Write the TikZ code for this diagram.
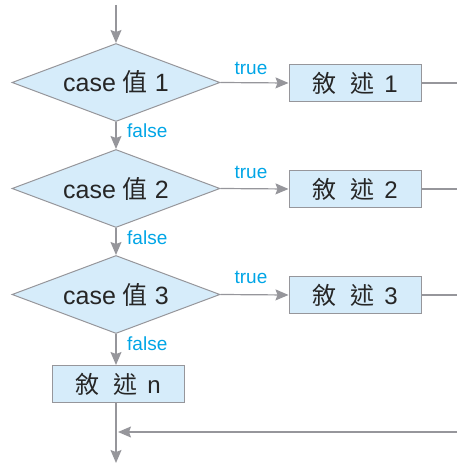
\documentclass[tikz,border=0pt]{standalone}
\usepackage{fontspec}
\setmainfont{Liberation Sans}
\newfontfamily\cjk{Noto Sans CJK TC}
\usetikzlibrary{shapes.geometric,arrows.meta}
\definecolor{flowgray}{RGB}{150,150,155}
\definecolor{boxfill}{RGB}{214,236,250}
\definecolor{labelblue}{RGB}{0,165,230}

\begin{document}
\begin{tikzpicture}[x=1pt,y=1pt,
  decision/.style={diamond,draw=flowgray,fill=boxfill,line width=1pt,aspect=2.66,
    minimum width=208pt,minimum height=78pt,inner sep=0pt,
    font=\fontsize{25}{27}\selectfont,text=black!85},
  statement/.style={rectangle,draw=flowgray,fill=boxfill,line width=1pt,
    minimum width=132pt,minimum height=37pt,inner sep=0pt,
    font=\fontsize{24}{26}\selectfont,text=black!85},
  flow/.style={draw=flowgray,line width=1.2pt,-{Stealth[length=13pt,width=11pt,inset=2pt]}},
  tag/.style={text=labelblue,font=\fontsize{19}{21}\selectfont,inner sep=0pt}]
\useasboundingbox (0,0) rectangle (457,-465);

% entry and exit
\coordinate (start) at (116,-5);
\coordinate (finish) at (116,-463);
\coordinate (merge) at (118,-432);
\coordinate (back) at (457,-432);

% the three case tests
\node[decision] (case1) at (116,-82.5) {case {\cjk 值} 1};
\node[decision] (case2) at (116,-188.5) {case {\cjk 值} 2};
\node[decision] (case3) at (116,-294.5) {case {\cjk 值} 3};

% statements
\node[statement] (stat1) at (355,-83) {{\cjk 敘\hspace{0.6em}述}\hspace{0.4em}1};
\node[statement] (stat2) at (355,-189) {{\cjk 敘\hspace{0.6em}述}\hspace{0.4em}2};
\node[statement] (stat3) at (355,-295) {{\cjk 敘\hspace{0.6em}述}\hspace{0.4em}3};
\node[statement] (statn) at (118,-384) {{\cjk 敘\hspace{0.6em}述}\hspace{0.4em}n};

\coordinate (out1) at (457,-83);
\coordinate (out2) at (457,-189);
\coordinate (out3) at (457,-295);

\draw[flow] (start) -- (case1.north);
\draw[flow] (case1.south) -- (case2.north);
\draw[flow] (case2.south) -- (case3.north);
\draw[flow] (case3.south) -- (statn.north -| case3.south);
\draw[flow] (statn.south -| case3.south) -- (finish);

\draw[flow] (case1.east) -- (stat1.west);
\draw[flow] (case2.east) -- (stat2.west);
\draw[flow] (case3.east) -- (stat3.west);

\draw[draw=flowgray,line width=1.2pt] (stat1.east) -- (out1);
\draw[draw=flowgray,line width=1.2pt] (stat2.east) -- (out2);
\draw[draw=flowgray,line width=1.2pt] (stat3.east) -- (out3);
\draw[flow] (back) -- (merge);

% branch labels
\node[tag] (true1) at (251,-68) {true};
\node[tag] (true2) at (251,-172) {true};
\node[tag] (true3) at (251,-277) {true};
\node[tag,anchor=west] (false1) at (127,-131) {false};
\node[tag,anchor=west] (false2) at (127,-238) {false};
\node[tag,anchor=west] (false3) at (127,-344) {false};

\end{tikzpicture}
\end{document}
